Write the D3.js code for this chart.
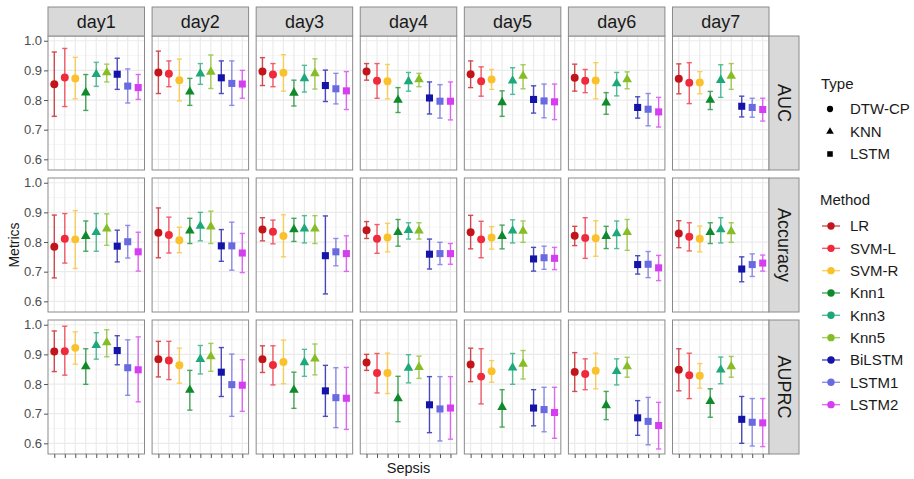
<!DOCTYPE html>
<html>
<head>
<meta charset="utf-8">
<script src="https://cdn.jsdelivr.net/npm/d3@7"></script>
<style>
  html, body { margin: 0; padding: 0; background: #fff; }
  svg { display: block; }
  text { font-family: "Liberation Sans", Arial, "DejaVu Sans", sans-serif; }
</style>
</head>
<body>
<svg id="chart" width="914" height="479"></svg>
<script>
// ---------------- data ----------------
const days = ["day1", "day2", "day3", "day4", "day5", "day6", "day7"];
const metrics = ["AUC", "Accuracy", "AUPRC"];
const methods = ["LR", "SVM-L", "SVM-R", "Knn1", "Knn3", "Knn5", "BiLSTM", "LSTM1", "LSTM2"];
const methodType = ["DTW-CP", "DTW-CP", "DTW-CP", "KNN", "KNN", "KNN", "LSTM", "LSTM", "LSTM"];
const types = ["DTW-CP", "KNN", "LSTM"];
const methodColors = ["#C2151B", "#EE2A3B", "#F9C22C", "#0F8A2B", "#1CA878", "#86BD24", "#1414A8", "#6A6AE0", "#D43EF0"];
const yTicks = [0.6, 0.7, 0.8, 0.9, 1.0];
const yMinor = [0.65, 0.75, 0.85, 0.95];

// rows: days, columns: methods
const aucMean = [
  [0.853,0.876,0.873,0.825,0.887,0.893,0.887,0.847,0.842],
  [0.893,0.889,0.867,0.828,0.889,0.895,0.875,0.856,0.854],
  [0.896,0.886,0.892,0.824,0.873,0.890,0.849,0.838,0.831],
  [0.896,0.865,0.863,0.800,0.863,0.869,0.807,0.796,0.796],
  [0.887,0.863,0.869,0.792,0.865,0.881,0.802,0.797,0.794],
  [0.875,0.865,0.866,0.791,0.856,0.869,0.775,0.769,0.760],
  [0.872,0.858,0.859,0.800,0.867,0.881,0.779,0.775,0.768]
];
const aucLow = [
  [0.745,0.778,0.804,0.765,0.846,0.861,0.836,0.790,0.802],
  [0.822,0.845,0.797,0.782,0.853,0.839,0.822,0.782,0.806],
  [0.849,0.845,0.830,0.780,0.827,0.837,0.795,0.787,0.768],
  [0.867,0.806,0.804,0.758,0.830,0.845,0.753,0.739,0.733],
  [0.842,0.813,0.836,0.745,0.819,0.838,0.756,0.740,0.734],
  [0.830,0.825,0.804,0.752,0.814,0.838,0.739,0.713,0.709],
  [0.821,0.788,0.821,0.768,0.809,0.836,0.743,0.742,0.729]
];
const aucHigh = [
  [0.962,0.974,0.944,0.886,0.927,0.921,0.941,0.905,0.886],
  [0.965,0.932,0.938,0.873,0.923,0.952,0.932,0.932,0.900],
  [0.943,0.923,0.953,0.867,0.917,0.939,0.901,0.890,0.896],
  [0.923,0.923,0.920,0.842,0.893,0.890,0.861,0.852,0.861],
  [0.932,0.912,0.903,0.831,0.909,0.919,0.848,0.854,0.854],
  [0.921,0.903,0.926,0.825,0.893,0.895,0.811,0.822,0.809],
  [0.922,0.926,0.896,0.829,0.919,0.923,0.813,0.806,0.806]
];
const accMean = [
  [0.784,0.811,0.809,0.820,0.833,0.845,0.786,0.801,0.767],
  [0.831,0.824,0.806,0.838,0.854,0.852,0.787,0.787,0.763],
  [0.842,0.835,0.820,0.842,0.845,0.845,0.754,0.767,0.761],
  [0.840,0.811,0.815,0.833,0.840,0.838,0.759,0.761,0.761],
  [0.833,0.809,0.815,0.820,0.838,0.837,0.743,0.747,0.745],
  [0.821,0.814,0.813,0.820,0.829,0.833,0.724,0.725,0.713],
  [0.829,0.818,0.811,0.833,0.842,0.836,0.709,0.724,0.729]
];
const accLow = [
  [0.679,0.729,0.711,0.769,0.769,0.789,0.733,0.746,0.702],
  [0.747,0.763,0.764,0.795,0.804,0.795,0.735,0.705,0.697],
  [0.804,0.794,0.750,0.802,0.797,0.795,0.625,0.720,0.701],
  [0.812,0.762,0.767,0.786,0.810,0.810,0.709,0.724,0.725],
  [0.777,0.747,0.776,0.777,0.797,0.799,0.702,0.708,0.707],
  [0.788,0.745,0.752,0.778,0.778,0.772,0.692,0.680,0.670],
  [0.781,0.770,0.767,0.795,0.797,0.799,0.666,0.684,0.702]
];
const accHigh = [
  [0.891,0.896,0.906,0.871,0.896,0.895,0.840,0.856,0.833],
  [0.915,0.884,0.850,0.880,0.900,0.904,0.842,0.867,0.829],
  [0.882,0.874,0.892,0.880,0.889,0.889,0.888,0.812,0.821],
  [0.869,0.859,0.863,0.876,0.865,0.865,0.810,0.799,0.795],
  [0.890,0.870,0.852,0.857,0.875,0.871,0.782,0.786,0.782],
  [0.853,0.882,0.872,0.853,0.871,0.876,0.754,0.768,0.755],
  [0.872,0.865,0.854,0.865,0.882,0.865,0.750,0.760,0.756]
];
const auprcMean = [
  [0.910,0.911,0.922,0.859,0.931,0.940,0.913,0.855,0.848],
  [0.884,0.879,0.863,0.780,0.884,0.893,0.840,0.798,0.796],
  [0.884,0.864,0.874,0.780,0.873,0.885,0.777,0.754,0.752],
  [0.873,0.837,0.837,0.751,0.854,0.857,0.730,0.716,0.719],
  [0.866,0.825,0.843,0.722,0.855,0.868,0.719,0.714,0.704],
  [0.841,0.834,0.845,0.728,0.843,0.859,0.686,0.674,0.660],
  [0.848,0.830,0.828,0.742,0.848,0.859,0.681,0.671,0.669]
];
const auprcLow = [
  [0.842,0.830,0.867,0.799,0.884,0.892,0.865,0.762,0.740],
  [0.824,0.815,0.803,0.712,0.834,0.843,0.758,0.691,0.708],
  [0.839,0.797,0.801,0.718,0.826,0.831,0.691,0.653,0.647],
  [0.846,0.770,0.768,0.673,0.804,0.819,0.636,0.608,0.614],
  [0.808,0.733,0.806,0.655,0.799,0.817,0.659,0.639,0.617],
  [0.775,0.781,0.784,0.680,0.797,0.823,0.627,0.595,0.581],
  [0.777,0.751,0.786,0.688,0.801,0.823,0.600,0.591,0.589]
];
const auprcHigh = [
  [0.979,0.995,0.976,0.919,0.973,0.983,0.963,0.949,0.959],
  [0.944,0.944,0.921,0.846,0.930,0.937,0.923,0.901,0.882],
  [0.929,0.929,0.948,0.840,0.917,0.935,0.863,0.855,0.856],
  [0.900,0.903,0.904,0.826,0.899,0.894,0.825,0.825,0.825],
  [0.921,0.919,0.879,0.781,0.903,0.913,0.781,0.789,0.789],
  [0.906,0.885,0.904,0.775,0.885,0.890,0.744,0.755,0.738],
  [0.919,0.904,0.869,0.784,0.891,0.893,0.758,0.751,0.751]
];

// ---------------- build table ----------------
const metricData = {
  "AUC": [aucMean, aucLow, aucHigh],
  "Accuracy": [accMean, accLow, accHigh],
  "AUPRC": [auprcMean, auprcLow, auprcHigh]
};
const rows = [];
metrics.forEach(m => {
  const [mean, low, high] = metricData[m];
  days.forEach((d, di) => {
    methods.forEach((me, mi) => {
      rows.push({metric: m, day: d, method: me, type: methodType[mi],
                 value: mean[di][mi], low: low[di][mi], high: high[di][mi]});
    });
  });
});

// ---------------- layout ----------------
const svg = d3.select("#chart");
const plotLeft = 48, plotRight = 769, plotTop = 36, plotBottom = 454;
const stripH = 29, stripW = 30;
const borderCol = "#8a8a8a";
const gridMajor = "#ebebeb", gridMinor = "#f4f4f4";

const colScale = d3.scaleBand().domain(days).range([plotLeft, plotRight]).paddingInner(0.0728);
const rowScale = d3.scaleBand().domain(metrics).range([plotTop, plotBottom]).paddingInner(0.0563);
const pw = colScale.bandwidth(), ph = rowScale.bandwidth();

const x = d3.scalePoint().domain(methods).range([0, pw]).padding(0.6);
const y = d3.scaleLinear().domain([0.564, 1.016]).range([ph, 0]);
const color = d3.scaleOrdinal().domain(methods).range(methodColors);
const shapeScale = d3.scaleOrdinal().domain(types).range([d3.symbolCircle, d3.symbolTriangle, d3.symbolSquare]);
const sizeScale = d3.scaleOrdinal().domain(types).range([50, 40, 50]);

// panels
metrics.forEach((m, ri) => {
  days.forEach((d, ci) => {
    const g = svg.append("g").attr("transform", `translate(${colScale(d)},${rowScale(m)})`);
    g.append("rect").attr("width", pw).attr("height", ph).attr("fill", "#fff");
    g.selectAll(".ymin").data(yMinor).join("line")
      .attr("x1", 0).attr("x2", pw).attr("y1", v => y(v)).attr("y2", v => y(v))
      .attr("stroke", gridMinor).attr("stroke-width", 0.8);
    g.selectAll(".ymaj").data(yTicks).join("line")
      .attr("x1", 0).attr("x2", pw).attr("y1", v => y(v)).attr("y2", v => y(v))
      .attr("stroke", gridMajor).attr("stroke-width", 1.2);
    g.selectAll(".xmaj").data(methods).join("line")
      .attr("x1", v => x(v)).attr("x2", v => x(v)).attr("y1", 0).attr("y2", ph)
      .attr("stroke", gridMajor).attr("stroke-width", 1.2);

    const pd = rows.filter(r => r.metric === m && r.day === d);
    const eb = g.selectAll(".eb").data(pd).join("g")
      .attr("stroke", r => color(r.method)).attr("stroke-width", 1.4).attr("opacity", 0.75);
    eb.append("line").attr("x1", r => x(r.method)).attr("x2", r => x(r.method))
      .attr("y1", r => y(r.low)).attr("y2", r => y(r.high));
    eb.append("line").attr("x1", r => x(r.method) - 2.6).attr("x2", r => x(r.method) + 2.6)
      .attr("y1", r => y(r.low)).attr("y2", r => y(r.low));
    eb.append("line").attr("x1", r => x(r.method) - 2.6).attr("x2", r => x(r.method) + 2.6)
      .attr("y1", r => y(r.high)).attr("y2", r => y(r.high));

    g.selectAll(".pt").data(pd).join("path")
      .attr("transform", r => `translate(${x(r.method)},${y(r.value)})`)
      .attr("d", r => d3.symbol(shapeScale(r.type), sizeScale(r.type))())
      .attr("fill", r => color(r.method));

    g.append("rect").attr("width", pw).attr("height", ph)
      .attr("fill", "none").attr("stroke", borderCol).attr("stroke-width", 1);

    if (ci === 0) {
      const ax = g.append("g").call(d3.axisLeft(y).tickValues(yTicks).tickFormat(d3.format(".1f")).tickSize(4).tickPadding(2));
      ax.select(".domain").remove();
      ax.selectAll("line").attr("stroke", "#555");
      ax.selectAll("text").attr("fill", "#4d4d4d").style("font-size", "13px")
        .style("font-family", '"Liberation Sans", Arial, sans-serif');
    }
    if (ri === metrics.length - 1) {
      const ax = g.append("g").attr("transform", `translate(0,${ph})`)
        .call(d3.axisBottom(x).tickSize(4).tickFormat(""));
      ax.select(".domain").remove();
      ax.selectAll("line").attr("stroke", "#555");
    }
  });
});

// top strips
days.forEach(d => {
  const g = svg.append("g").attr("transform", `translate(${colScale(d)},${plotTop - stripH})`);
  g.append("rect").attr("width", pw).attr("height", stripH)
    .attr("fill", "#d9d9d9").attr("stroke", borderCol).attr("stroke-width", 1);
  g.append("text").attr("x", pw / 2).attr("y", stripH / 2).attr("dy", "0.36em")
    .attr("text-anchor", "middle").attr("fill", "#1a1a1a").style("font-size", "18px").text(d);
});
// right strips
metrics.forEach(m => {
  const g = svg.append("g").attr("transform", `translate(${plotRight},${rowScale(m)})`);
  g.append("rect").attr("width", stripW).attr("height", ph)
    .attr("fill", "#d9d9d9").attr("stroke", borderCol).attr("stroke-width", 1);
  g.append("text").attr("transform", `translate(${stripW / 2},${ph / 2}) rotate(90)`)
    .attr("dy", "0.36em").attr("text-anchor", "middle").attr("fill", "#1a1a1a")
    .style("font-size", "18px").text(m);
});

// axis titles
svg.append("text").attr("transform", `translate(14,${(plotTop + plotBottom) / 2}) rotate(-90)`)
  .attr("text-anchor", "middle").attr("dy", "0.36em").attr("fill", "#1a1a1a")
  .style("font-size", "14px").text("Metrics");
svg.append("text").attr("x", (plotLeft + plotRight) / 2).attr("y", 468).attr("dy", "0.36em")
  .attr("text-anchor", "middle").attr("fill", "#1a1a1a").style("font-size", "14.5px").text("Sepsis");

// legends
svg.append("text").attr("x", 821).attr("y", 84).attr("dy", "0.36em")
  .attr("fill", "#1a1a1a").style("font-size", "15px").text("Type");
const tl = svg.selectAll(".tleg").data(types).join("g")
  .attr("transform", (t, i) => `translate(0,${109 + i * 22.5})`);
tl.append("path").attr("transform", "translate(830,0)")
  .attr("d", t => d3.symbol(shapeScale(t), sizeScale(t) * 0.62)()).attr("fill", "#000");
tl.append("text").attr("x", 850).attr("dy", "0.36em").attr("fill", "#1a1a1a")
  .style("font-size", "15px").text(t => t);

svg.append("text").attr("x", 820).attr("y", 200).attr("dy", "0.36em")
  .attr("fill", "#1a1a1a").style("font-size", "15px").text("Method");
const ml = svg.selectAll(".mleg").data(methods).join("g")
  .attr("transform", (m, i) => `translate(0,${226 + i * 22.33})`);
ml.append("line").attr("x1", 822).attr("x2", 840).attr("stroke", m => color(m))
  .attr("stroke-width", 1.4).attr("opacity", 0.75);
ml.append("circle").attr("cx", 831).attr("r", 3.7).attr("fill", m => color(m));
ml.append("text").attr("x", 850).attr("dy", "0.36em").attr("fill", "#1a1a1a")
  .style("font-size", "15px").text(m => m);
</script>
</body>
</html>
